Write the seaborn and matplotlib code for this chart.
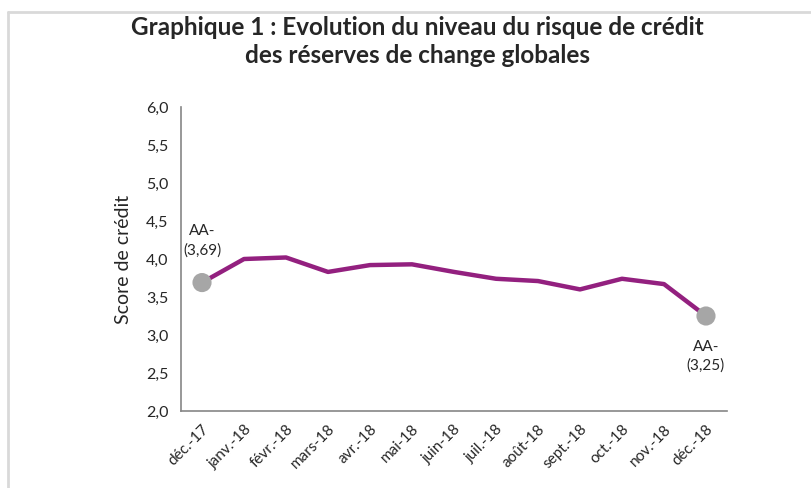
import pandas as pd
import seaborn as sns
import matplotlib.pyplot as plt
from matplotlib.lines import Line2D

months = ['déc.-17', 'janv.-18', 'févr.-18', 'mars-18', 'avr.-18', 'mai-18', 'juin-18',
          'juil.-18', 'août-18', 'sept.-18', 'oct.-18', 'nov.-18', 'déc.-18']
scores = [3.69, 4.00, 4.02, 3.83, 3.92, 3.93, 3.83, 3.74, 3.71, 3.60, 3.74, 3.67, 3.25]
rating_labels = ['AA-\n(3,69)', 'AA-\n(3,25)']

sns.set_style("white")
plt.rcParams['font.family'] = ['Lato', 'DejaVu Sans']

data = pd.DataFrame({'mois': months, 'score': scores})
data['pos'] = range(len(data))

fig = plt.figure(figsize=(8.11, 4.88), dpi=100)
ax = fig.add_axes([0.2232, 0.1578, 0.6732, 0.6229])

sns.lineplot(data=data, x='pos', y='score', color='#93207f', linewidth=3.2, ax=ax)
ends = data.iloc[[0, -1]]
sns.scatterplot(data=ends, x='pos', y='score', color='#a6a6a6', s=190, edgecolor='none',
                zorder=5, ax=ax)

ax.annotate(rating_labels[0], (ends['pos'].iloc[0], ends['score'].iloc[0]),
            xytext=(0, 18), textcoords='offset points', ha='center', va='bottom',
            fontsize=11, linespacing=1.45)
ax.annotate(rating_labels[1], (ends['pos'].iloc[1], ends['score'].iloc[1]),
            xytext=(0, -17), textcoords='offset points', ha='center', va='top',
            fontsize=11, linespacing=1.45)

ax.set_xlim(-0.5, len(months) - 0.5)
ax.set_ylim(2.0, 6.0)
ax.set_xticks(data['pos'])
ax.set_xticklabels(months, rotation=45, ha='right', rotation_mode='anchor', fontsize=11)
ax.set_xticks([i - 0.5 for i in range(len(months) + 1)], minor=True)
ax.tick_params(axis='x', which='major', length=0, pad=8)
ax.tick_params(axis='x', which='minor', length=5, color='#868686', width=1.2, direction='out')
yt = [2.0 + 0.5 * i for i in range(9)]
ax.set_yticks(yt)
ax.set_yticklabels([f"{v:.1f}".replace('.', ',') for v in yt], fontsize=11.5)
ax.tick_params(axis='y', length=5, color='#868686', width=1.2, direction='out', pad=4)

for s in ['top', 'right']:
    ax.spines[s].set_visible(False)
for s in ['left', 'bottom']:
    ax.spines[s].set_color('#868686')
    ax.spines[s].set_linewidth(1.2)

ax.set_xlabel('')
ax.set_ylabel('Score de crédit', fontsize=14, labelpad=10)

fig.text(0.515, 0.968, 'Graphique 1 : Evolution du niveau du risque de crédit\ndes réserves de change globales',
         ha='center', va='top', fontsize=17.5, fontweight='bold', linespacing=1.3)

fig.add_artist(Line2D([0.0099, 1.0], [1 - 12 / 488, 1 - 12 / 488], color='#d9d9d9', linewidth=2))
fig.add_artist(Line2D([0.0099, 0.0099], [0.0, 1 - 12 / 488], color='#d9d9d9', linewidth=2))

fig.savefig('out.png', dpi=100)
